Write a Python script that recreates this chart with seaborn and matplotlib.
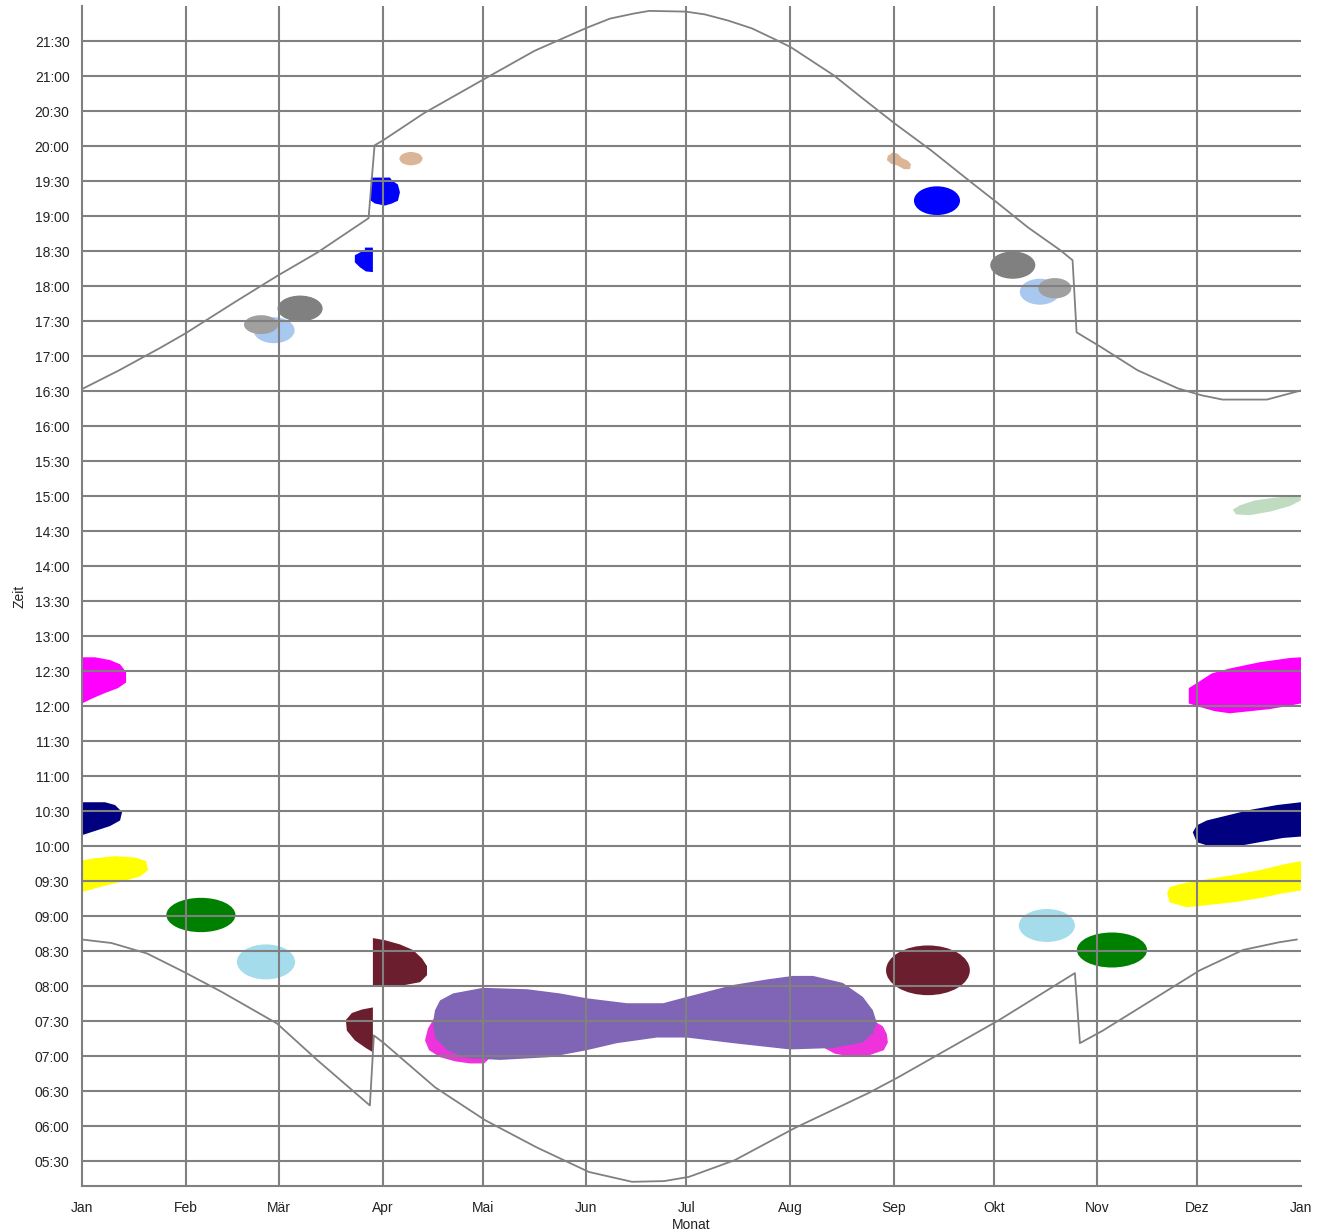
import matplotlib
matplotlib.use("Agg")
import matplotlib.pyplot as plt
from matplotlib.patches import Ellipse, Polygon
from matplotlib.ticker import FuncFormatter
import pandas as pd
import seaborn as sns

# month starts (day of year) and labels
MONTH_DAYS = [0, 31, 59, 90, 120, 151, 181, 212, 243, 273, 304, 334, 365]
MONTH_LABELS = ["Jan", "Feb", "Mär", "Apr", "Mai", "Jun", "Jul", "Aug",
                "Sep", "Okt", "Nov", "Dez", "Jan"]

# sunset (with the DST jumps)
sunset_day = [0, 11.2, 23.1, 30.8, 46.7, 58.6, 70.5, 85.8, 87.6, 90.1, 102.4,
              119.8, 135.5, 151.2, 158.1, 165.0, 169.8, 180.7, 186.5, 193.6,
              200.6, 208.1, 212.3, 225.1, 233.5, 243.4, 254.2, 266.3, 273.8,
              283.2, 293.0, 296.6, 297.8, 305.1, 316.0, 328.1, 335.3, 341.5,
              354.8, 365]
sunset_hour = [16.53, 16.80, 17.11, 17.32, 17.80, 18.15, 18.48, 18.97, 20.01,
               20.08, 20.47, 20.94, 21.36, 21.69, 21.82, 21.89, 21.93, 21.92,
               21.88, 21.79, 21.68, 21.51, 21.41, 21.01, 20.69, 20.32, 19.94,
               19.48, 19.20, 18.84, 18.51, 18.37, 17.34, 17.13, 16.80, 16.54,
               16.44, 16.38, 16.38, 16.51]

# sunrise
sunrise_day = [0, 8.8, 19.5, 30.8, 41.9, 58.4, 70.4, 86.2, 87.4, 90.4, 105.7,
               120.7, 136.2, 151.8, 164.7, 174.3, 181.7, 195.5, 213.5, 235.6,
               244.3, 274.6, 297.3, 298.8, 305.7, 334.7, 347.6, 358.4, 363.8]
sunrise_hour = [8.67, 8.62, 8.47, 8.20, 7.92, 7.47, 6.95, 6.30, 7.30, 7.19,
                6.56, 6.09, 5.70, 5.35, 5.21, 5.22, 5.28, 5.52, 5.98, 6.48,
                6.70, 7.52, 8.19, 7.19, 7.37, 8.23, 8.52, 8.63, 8.67]

# roundish blobs: centre day, centre hour, width (days), height (hours)
ell_day = [57.5, 53.6, 65.3, 98.5, 256.0, 278.7, 286.8, 291.3,
           35.6, 55.1, 253.3, 288.9, 308.4]
ell_hour = [17.37, 17.45, 17.68, 19.82, 19.22, 18.30, 17.92, 17.97,
            9.02, 8.35, 8.23, 8.87, 8.52]
ell_width = [12.3, 10.2, 13.5, 6.9, 13.8, 13.5, 12.0, 9.9,
             20.7, 17.4, 25.1, 16.8, 21.0]
ell_height = [0.37, 0.27, 0.37, 0.19, 0.41, 0.39, 0.37, 0.29,
              0.49, 0.50, 0.71, 0.47, 0.50]
ell_color = ["#a8c8f0", "#a0a0a0", "#808080", "#dcb496", "#0000ff", "#808080",
             "#a8c8f0", "#a0a0a0", "#008000", "#a4dcec", "#6b1e2d", "#a4dcec",
             "#008000"]

# irregular blobs: (days, hours)
blue_apr = ([86.5, 92.2, 92.8, 94.6, 95.2, 94.6, 92.8, 90.7, 87.7, 86.5],
            [19.55, 19.55, 19.51, 19.45, 19.34, 19.22, 19.18, 19.15, 19.18, 19.22])
blue_mar = ([84.7, 87.1, 87.1, 85.0, 83.2, 81.7, 81.7, 83.2, 84.7],
            [18.55, 18.55, 18.20, 18.21, 18.27, 18.34, 18.44, 18.48, 18.51])
tan_sep = ([241.3, 242.8, 244.3, 245.5, 247.3, 248.2, 247.9, 246.1, 244.3, 242.2, 241.0],
           [19.86, 19.91, 19.89, 19.83, 19.79, 19.74, 19.67, 19.67, 19.72, 19.75, 19.80])
green_dec = ([346.7, 351.2, 357.2, 364.7, 365, 361.7, 355.7, 349.7, 345.5, 344.6],
             [14.87, 14.94, 14.98, 15.01, 14.94, 14.86, 14.78, 14.73, 14.74, 14.81])
magenta_jan = ([0, 3.9, 8.4, 11.4, 13.2, 13.2, 10.8, 6.9, 3.0, 0],
               [12.70, 12.70, 12.66, 12.60, 12.49, 12.34, 12.26, 12.19, 12.11, 12.04])
magenta_dec = ([365, 361.7, 352.7, 343.7, 338.3, 334.1, 331.4, 331.4, 334.7,
                339.2, 343.7, 349.7, 355.7, 361.7, 365],
               [12.70, 12.69, 12.63, 12.54, 12.47, 12.34, 12.26, 12.04, 11.99,
                11.93, 11.90, 11.93, 11.96, 12.01, 12.04])
navy_jan = ([0, 6.9, 9.9, 12.0, 11.4, 8.4, 3.9, 0],
            [10.63, 10.63, 10.59, 10.49, 10.37, 10.29, 10.22, 10.16])
navy_dec = ([365, 357.8, 349.7, 342.8, 336.8, 333.8, 332.6, 333.8, 337.7,
             344.6, 352.7, 359.6, 365],
            [10.63, 10.59, 10.52, 10.44, 10.37, 10.30, 10.20, 10.06, 10.00,
             9.99, 10.06, 10.12, 10.14])
yellow_jan = ([0, 3.9, 9.9, 15.9, 19.2, 19.8, 17.4, 11.4, 5.4, 0.9, 0],
              [9.80, 9.83, 9.86, 9.84, 9.79, 9.66, 9.57, 9.49, 9.42, 9.36, 9.36])
yellow_dec = ([365, 359.6, 352.7, 344.6, 336.8, 329.6, 325.7, 324.9, 325.7,
               330.8, 336.8, 344.6, 352.7, 359.6, 365],
              [9.79, 9.74, 9.66, 9.59, 9.53, 9.47, 9.42, 9.33, 9.20, 9.13,
               9.16, 9.20, 9.26, 9.33, 9.37])
red_apr = ([87.1, 90.7, 95.2, 99.1, 101.8, 103.3, 103.3, 101.2, 96.7, 92.2, 87.1],
           [8.69, 8.66, 8.60, 8.52, 8.40, 8.29, 8.16, 8.06, 8.02, 8.00, 8.00])
red_mar = ([87.1, 87.1, 85.0, 81.7, 79.3, 79.0, 80.8, 83.8],
           [7.70, 7.06, 7.12, 7.23, 7.37, 7.52, 7.62, 7.67])
pink_may = ([106.0, 103.6, 102.7, 103.9, 107.2, 111.7, 116.2, 120.4, 122.2, 113.2, 108.7],
            [7.59, 7.40, 7.23, 7.09, 6.99, 6.93, 6.90, 6.90, 6.98, 7.23, 7.52])
pink_aug = ([221.9, 229.9, 235.3, 237.7, 239.8, 241.0, 241.3, 240.1, 235.9, 229.9, 225.4],
            [7.13, 7.19, 7.35, 7.49, 7.43, 7.32, 7.20, 7.09, 7.02, 7.00, 7.04])
purple_summer = ([105.7, 107.2, 111.1, 120.1, 133.2, 143.1, 151.2, 163.2, 174.0,
                  181.1, 194.9, 205.1, 212.9, 218.9, 227.8, 233.8, 236.8, 238.0,
                  236.8, 233.8, 224.9, 212.0, 194.9, 181.1, 172.2, 160.2, 151.2,
                  140.1, 125.1, 115.3, 109.3, 105.7, 105.1],
                 [7.66, 7.80, 7.90, 7.98, 7.96, 7.90, 7.83, 7.76, 7.76, 7.85,
                  8.02, 8.10, 8.15, 8.15, 8.05, 7.85, 7.66, 7.48, 7.33, 7.20,
                  7.12, 7.10, 7.19, 7.27, 7.27, 7.19, 7.09, 6.99, 6.95, 6.98,
                  7.09, 7.27, 7.48])

GRID = "#808080"

sns.set_style("white")
plt.rcParams["font.family"] = ["Liberation Sans", "DejaVu Sans"]

fig = plt.figure(figsize=(13.26, 12.31), dpi=100)
ax = fig.add_axes([82 / 1326, 1 - 1186 / 1231, 1219 / 1326, 1180 / 1231])

for i in range(len(ell_day)):
    ax.add_patch(Ellipse((ell_day[i], ell_hour[i]), ell_width[i], ell_height[i],
                         facecolor=ell_color[i], edgecolor="none", zorder=1))

polys = [
    (blue_apr, "#0000ff"), (blue_mar, "#0000ff"), (tan_sep, "#dcb496"),
    (green_dec, "#c0dcc0"), (magenta_jan, "#ff00ff"), (magenta_dec, "#ff00ff"),
    (navy_jan, "#000080"), (navy_dec, "#000080"), (yellow_jan, "#ffff00"),
    (yellow_dec, "#ffff00"), (red_apr, "#6b1e2d"), (red_mar, "#6b1e2d"),
    (pink_may, "#ee33dd"), (pink_aug, "#ee33dd"), (purple_summer, "#8064b6"),
]
for (days, hours), col in polys:
    ax.add_patch(Polygon(list(zip(days, hours)), closed=True,
                         facecolor=col, edgecolor="none", zorder=1))

sun = pd.DataFrame({"day": sunset_day, "hour": sunset_hour})
rise = pd.DataFrame({"day": sunrise_day, "hour": sunrise_hour})
sns.lineplot(data=sun, x="day", y="hour", sort=False, estimator=None,
             color=GRID, lw=1.3, ax=ax, zorder=3)
sns.lineplot(data=rise, x="day", y="hour", sort=False, estimator=None,
             color=GRID, lw=1.3, ax=ax, zorder=3)

ax.set_xlim(0, 365)
ax.set_ylim(5.15, 22.0)

# ticks
ax.set_xticks(MONTH_DAYS)
ax.set_xticklabels(MONTH_LABELS)
minor_x = []
for a, b in zip(MONTH_DAYS[:-1], MONTH_DAYS[1:]):
    minor_x += [a + (b - a) * k / 4 for k in (1, 2, 3)]
ax.set_xticks(minor_x, minor=True)

major_y = [5.5 + 0.5 * i for i in range(33)]
ax.set_yticks(major_y)
ax.set_yticks([5.25 + 0.125 * i for i in range(134) if 5.25 + 0.125 * i < 22], minor=True)
ax.yaxis.set_major_formatter(FuncFormatter(
    lambda v, p: "%02d:%02d" % (int(v), round((v - int(v)) * 60))))

ax.tick_params(axis="both", which="major", length=7, width=1.5, color=GRID,
               labelsize=10, labelcolor="#222222", pad=2)
ax.tick_params(axis="both", which="minor", length=4, width=1.5, color=GRID)
ax.tick_params(axis="x", which="major", pad=4)

# grid
ax.set_axisbelow(False)
ax.yaxis.grid(True, which="major", color=GRID, lw=1.5)
for d in MONTH_DAYS[1:-1]:
    ax.axvline(d, color=GRID, lw=1.5, zorder=2.5)

for s in ["top", "right"]:
    ax.spines[s].set_visible(False)
for s in ["left", "bottom"]:
    ax.spines[s].set_color(GRID)
    ax.spines[s].set_linewidth(1.5)

ax.set_xlabel("Monat", fontsize=10, color="#222222", labelpad=2)
ax.set_ylabel("Zeit", fontsize=10, color="#222222", labelpad=6)

fig.savefig("out.png", dpi=100)
